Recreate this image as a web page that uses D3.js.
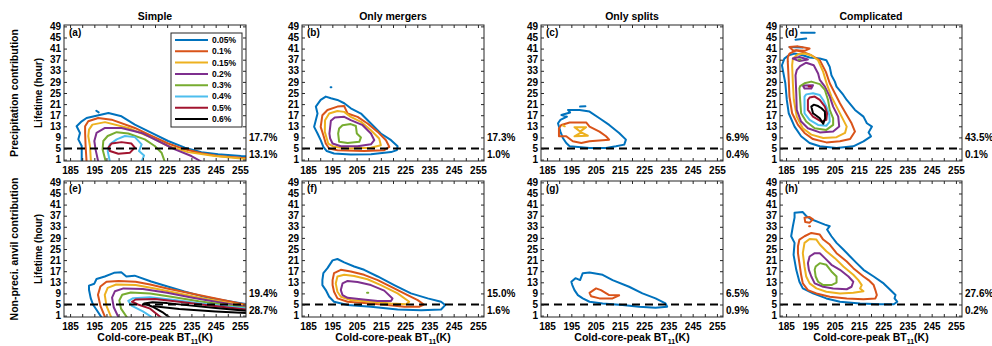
<!DOCTYPE html>
<html>
<head>
<meta charset="utf-8">
<script src="https://cdn.jsdelivr.net/npm/d3@7"></script>
<style>
body { margin: 0; background: #fff; }
text { font-family: "Liberation Sans", Arial, sans-serif; font-weight: bold; fill: #000; }
</style>
</head>
<body>
<svg id="chart" width="992" height="346"></svg>
<script>
// Contour levels and their colours (MATLAB default order)
var levels = ["0.05%", "0.1%", "0.15%", "0.2%", "0.3%", "0.4%", "0.5%", "0.6%"];
var levelColors = ["#0072BD", "#D95319", "#EDB120", "#7E2F8E", "#77AC30", "#4DBEEE", "#A2142F", "#000000"];

var panelTitles = ["Simple", "Only mergers", "Only splits", "Complicated"];
var panelLetters = ["(a)", "(b)", "(c)", "(d)", "(e)", "(f)", "(g)", "(h)"];
var rowLabels = ["Precipitation contribution", "Non-preci. anvil contribution"];
var pctAbove = ["17.7%", "17.3%", "6.9%", "43.5%", "19.4%", "15.0%", "6.5%", "27.6%"];
var pctBelow = ["13.1%", "1.0%", "0.4%", "0.1%", "28.7%", "1.6%", "0.9%", "0.2%"];

var xTicks = d3.range(185, 256, 5);     // labelled every 10 K
var yTicks = d3.range(1, 50, 4);
var lifetimeCut = 5;                    // dashed line (hour)

// contour lines: [level index, closed?, [[BT (K), lifetime (hour)], ...]]
var contA = [
  [0, 0, [[189.8,0.3],[189.8,5.9],[188.4,8.3],[189.1,10.6],[187.7,13],[189.8,14.8],[191.8,16],[200.8,17.8],[206.2,16.6],[211.7,13.6],[218.6,10.6],[225.4,7.7],[232.3,5.3],[239.1,3.7],[246,2.9],[255.5,2.3],[258,2.2]]],
  [0, 0, [[195.8,18.6],[196.8,18.0]]],
  [1, 0, [[191.8,0.3],[191.4,5.9],[191.2,10.6],[191.2,13],[192.5,14.8],[196.6,16],[202.1,15.4],[211.7,12.4],[218.6,9.5],[225.4,6.8],[232.3,4.7],[239.1,3.3],[246,2.3],[255.5,1.7],[258,1.6]]],
  [2, 0, [[193.6,0.3],[193.2,5.9],[192.5,9.5],[192.8,11.8],[194.2,13.6],[199.4,14.5],[209,12.4],[218.6,8.9],[225.4,5.9],[233.6,3.7],[244.6,2.3],[255.5,1.4],[258,1.3]]],
  [3, 0, [[196.6,0.3],[195.5,4.7],[195,7.7],[195.9,10.6],[199.4,12.4],[206.2,12.4],[214.5,10.6],[221.3,7.7],[228.2,4.7],[235,2.3],[239.1,0.3]]],
  [4, 0, [[199.7,0.3],[198.4,4.7],[198.7,7.7],[200.5,9.5],[204.2,10.9],[209,10.4],[215.8,8.3],[219.9,5.9],[222.7,3.5],[224,0.3]]],
  [5, 0, [[201.4,0.3],[200.5,4.1],[201.4,6.5],[204.2,8.3],[207.6,9.5],[211.7,9.1],[214.5,6.5],[213.4,4.1],[215.5,2.5],[214.5,0.3]]],
  [6, 1, [[200.8,5.3],[202.1,6.8],[206.2,7.3],[210.3,6.8],[211.7,5.3],[209.7,3.5],[204.9,3.1],[201.4,4.1]]]
];
var contB = [
  [0, 1, [[187.5,12.8],[188.9,17.6],[188.2,20.1],[190.2,22.5],[192.3,23.7],[194.4,23.1],[197.1,22.5],[199.9,21.3],[202.6,19.5],[206.8,17.6],[210.9,14],[215,10.4],[219.2,8],[221.9,5.8],[221.6,4.4],[219.2,3.7],[210.9,2.9],[202.6,2.8],[195.7,3.2],[192.7,4.1],[191.3,5.6],[190.2,8],[188.9,10.4]]],
  [0, 0, [[194.3,27.1],[194.6,27.1]]],
  [1, 1, [[190.2,12.8],[190.9,17],[193,18.9],[197.1,20.1],[199.9,20.3],[201.3,17.6],[205.4,16.4],[209.5,14],[213.7,11],[217.1,8],[218.5,5.6],[216.4,4.4],[208.1,4.1],[197.1,4.4],[193.7,5],[192.3,6.8],[191.3,9.8]]],
  [2, 1, [[191.9,11],[192,15.2],[193.7,17.6],[197.1,18.5],[199.9,18.2],[202.6,16.4],[206.8,14.6],[210.9,11.6],[214.3,8.6],[215,6.2],[210.9,5.3],[201.3,5],[195.7,5.6],[193.3,6.8]]],
  [3, 1, [[193.8,10.4],[194.4,15],[196,16.2],[199.9,16.4],[202.6,15.2],[207.5,13.4],[210.9,10.4],[212.3,8],[210.9,6.5],[205.4,5.8],[198.5,5.8],[195.1,6.8],[194.1,8.6]]],
  [4, 1, [[197.8,12.2],[199.2,13.4],[202.6,13.8],[204.7,13.1],[205.1,10.4],[206.8,9],[206.1,7.4],[201.3,7],[197.8,7.4],[197.4,10.4]]]
];
var contC = [
  [0, 1, [[189.5,14.1],[190.5,15.3],[193.2,16.5],[190.9,17.1],[194.5,18],[193.6,18.9],[198.4,18.9],[202.5,18.3],[206.6,15.9],[210.6,13.5],[214.7,10.6],[217.5,8.2],[216.8,6.4],[213.4,5.8],[209.3,5.2],[202.5,5.2],[194.3,5.8],[192.9,7],[191.5,8.8],[190.5,11.1]]],
  [0, 0, [[198.6,20.1],[200.8,20.2]]],
  [1, 1, [[189.9,12.3],[190.9,13.5],[194.3,14.4],[201.1,14.4],[202.5,12.9],[206.6,11.1],[209.3,9.4],[210.6,8.2],[202.5,7.6],[199.1,7],[195.6,7.6],[192.9,9.4],[189.9,9.4]]],
  [2, 1, [[196.3,12.7],[201.1,12.7],[198.6,11.1]]],
  [2, 1, [[196.3,9.4],[201.8,9.6],[199.1,10.8]]],
  [2, 0, [[191.5,13.3],[192.3,13.0]]]
];
var contD = [
  [0, 1, [[183.3,35],[184.7,28.5],[185.3,22.5],[186.1,17.7],[188.5,12.9],[191.2,9.4],[194.7,7],[198.9,5.8],[205.8,5.2],[212.7,5.8],[216.9,7.6],[220,9.4],[219,10.8],[220.4,12.9],[218.3,14.1],[216.9,16.5],[213.4,18.9],[210,22.5],[208.6,24.3],[205.8,27.3],[205.1,29.1],[203.7,31.4],[203,34.4],[201.6,36.8],[198.9,37.4],[194.7,37.8],[191.9,38.6],[188.5,39.2],[186.1,38.6],[184.3,37.4]]],
  [0, 0, [[186.4,41.6],[191.9,41.4]]],
  [0, 0, [[188.9,44.2],[193.3,44.6]]],
  [0, 0, [[191.2,46.7],[196.8,46.7]]],
  [1, 1, [[185.7,36.2],[186.1,29.7],[186.4,23.7],[187.5,17.7],[189.9,13.5],[192.6,10.6],[196.1,8.4],[201.6,7.2],[207.2,7.6],[211.4,8.4],[213.4,11.1],[212,14.1],[210,17.1],[207.2,21.3],[205.1,24.9],[203,28.5],[201.4,32.6],[198.9,36.8],[195.4,38.6],[191.9,39.8],[189.2,40.4],[186.4,39.2],[185.7,37.8]]],
  [1, 1, [[186.4,41.6],[189.9,41.8],[194.7,41],[192.6,40.2],[187.8,40.4]]],
  [2, 1, [[187.5,35],[187.8,28.5],[188.2,22.5],[189.4,16.5],[191.9,12.3],[195.4,10],[200.3,8.8],[205.8,9.1],[209.3,10.6],[210,12.9],[207.9,16.5],[205.8,20.1],[203.7,23.7],[201.9,27.9],[200.3,32.6],[198.2,36.8],[195.4,38.6],[192.6,39.2],[189.9,39],[187.8,37.4]]],
  [3, 1, [[188.9,31.4],[189.2,24.9],[189.4,18.9],[191.2,14.7],[194,12.3],[198.9,10.8],[204.4,11.1],[206.9,12.9],[206.5,16.5],[204.4,20.1],[203,23.7],[201,27.3],[198.9,29.7],[198.2,32],[196.4,35],[193.3,35.9],[190.8,34.7],[189.4,33.2]]],
  [3, 1, [[187.8,37.4],[190.5,38],[194,37.1],[190.5,36.5]]],
  [3, 1, [[191.9,27.7],[196.1,27.8],[195.4,26.6],[192.6,26.6]]],
  [4, 1, [[190.5,26.7],[190.8,22.5],[191.2,17.7],[193.3,14.7],[196.8,12.3],[201.6,11.7],[204.4,13.5],[204.4,15.9],[203,18.9],[202.3,22.5],[201,26.1],[198.9,28.2],[195.4,29.1],[192.6,28.5],[190.8,27.5]]],
  [4, 0, [[190.2,37.1],[190.9,37.1]]],
  [5, 1, [[192.6,23.7],[192.6,17.7],[194.7,15.3],[198.2,13.5],[201.6,13.2],[203,14.7],[202.8,17.1],[201.6,20.1],[200.3,22.5],[198.9,24.3],[196.1,24.9],[193.3,24.5]]],
  [6, 1, [[194,22.5],[194,18.9],[196.1,16.5],[199.6,14.7],[201.6,15.3],[201.9,17.7],[201,20.1],[198.9,22.5],[196.8,23.7],[194.7,23.4]]],
  [6, 0, [[194.3,27.3],[195.1,27.3]]],
  [7, 1, [[195.4,20.1],[196.1,17.7],[198.9,15.9],[200.3,13.9],[201.1,15.9],[201,18.3],[199.6,19.5],[198.2,20.3],[196.4,20.8]]]
];
var contE = [
  [0, 0, [[198,0.3],[195.9,3.1],[194.5,4.9],[193.5,7.3],[192.8,10.3],[192.8,11.8],[195,12.5],[195.9,14.2],[199.3,15.1],[203.1,16.4],[206.1,16.6],[208.2,15.1],[211.6,15.4],[218.4,13.3],[225.2,11.5],[232.1,9.7],[238.9,8.1],[245.7,6.9],[255.3,5.5],[258,5.1]]],
  [1, 0, [[199.5,0.3],[197.5,4.5],[196.5,8.5],[197.5,11.5],[200,13.2],[205,13.5],[212,13.2],[218,12.2],[225,10.8],[235,9],[245,7.2],[258,4.8]]],
  [2, 0, [[202,0.3],[200,4.5],[199.3,8.5],[200.5,11],[204,12.2],[212,12],[220,10.8],[230,9],[240,7.2],[258,4.4]]],
  [3, 0, [[205,0.3],[203,4],[202.3,7.5],[203.5,9.8],[207,10.8],[215,10.6],[225,9.2],[235,7.5],[245,6],[258,4.1]]],
  [4, 0, [[208.5,0.3],[206,3.5],[205.3,6.5],[206.5,8.5],[210,9.3],[218,9],[228,7.6],[238,6.2],[248,5],[258,3.8]]],
  [5, 0, [[219,0.3],[215,2.5],[210.5,4.5],[209,6.3],[211,7.3],[218,7.6],[228,6.6],[238,5.5],[248,4.5],[258,3.5]]],
  [6, 0, [[222.5,0.3],[218,3.5],[213,5],[210.5,6],[212,6.8],[220,7],[230,6],[240,4.9],[250,3.9],[258,3.2]]],
  [7, 0, [[226,0.3],[223,2.3],[219,4.2],[215.5,5.4],[219,5.8],[225,5.5],[235,4.6],[245,3.7],[258,2.7]]],
  [7, 0, [[219.5,4.4],[230,3.4],[245,2.5],[258,1.9]]]
];
var contF = [
  [0, 1, [[190.9,13.8],[191.3,16.3],[193,18.1],[195.1,20.9],[197.1,21.4],[199.9,20.2],[204,18.7],[208.1,17.5],[213.7,15.1],[220.5,12],[227.4,9],[234.3,7.2],[239.8,6],[241.5,4.8],[239.8,3.2],[231.6,2.9],[221.9,3.2],[210.9,4.2],[201.3,4.8],[195.7,6],[193.7,7.8],[192.3,10.2],[190.9,12]]],
  [1, 1, [[195.1,13.8],[195.7,16.3],[198.5,17.5],[202.6,16.9],[208.1,15.7],[213.7,13.8],[220.5,10.8],[226,8.4],[230.2,6.6],[232.7,5],[230.9,4.2],[224.7,4.2],[217.8,4.8],[210.9,5.4],[201.3,6],[197.1,7.2],[195.7,9.6],[195.1,12]]],
  [2, 1, [[196.4,12.6],[197.1,15.1],[199.9,15.7],[204,15.3],[209.5,14.1],[215,12],[221.9,9],[226.7,6],[225.4,5.1],[219.2,5.4],[210.9,6],[202.6,6.6],[198.5,7.8],[197.1,9.6]]],
  [3, 1, [[198.5,10.2],[199.2,12.6],[201.3,13.5],[205.4,13.1],[210.9,12],[216.4,10],[219.8,7.2],[219.2,6.3],[213.7,6.3],[206.8,6.9],[201.3,7.4],[199.2,8.4]]],
  [4, 0, [[209.3,9.2],[209.8,9.2]]]
];
var contG = [
  [0, 1, [[195,13.2],[196.7,14.5],[198.6,13.8],[199.7,16.3],[202.5,16.5],[207.9,15.7],[212,13.8],[218.8,11.4],[224.3,9],[229.7,7.2],[233.8,5.4],[234.5,4.2],[229.7,3.8],[222.9,4.2],[216.1,4.8],[207.9,5.4],[202.5,6],[199.7,7.2],[197.7,8.4],[196.3,10.2],[195.4,12]]],
  [1, 1, [[202.5,9.2],[205.2,10.8],[207.2,10.2],[210.6,8.4],[214.7,8.3],[212,7.2],[206.6,7.2],[203.1,8]]]
];
var contH = [
  [0, 1, [[188.5,38.1],[191.9,38.3],[193.3,36.9],[195.4,35.7],[198.9,34.5],[201,33.8],[203,33.2],[201.9,32],[203.7,29.6],[205.8,27.2],[208.6,24.8],[211.4,22.3],[214.1,19.9],[216.9,17.5],[221.1,15.1],[225.2,12.6],[228,10.2],[230.1,8.4],[229.7,7.2],[230.8,6],[229.4,5.1],[223.8,5.1],[215.5,5.4],[207.2,6],[201.6,7.2],[196.1,9],[191.9,10.8],[190.5,13.2],[189.2,17.5],[188.1,22.9],[188.5,27.2],[187.1,29.6],[187.8,33.2],[188.5,36.3]]],
  [1, 1, [[189.9,26],[190.5,28.4],[192.6,29.6],[195.4,30.8],[198.9,30.2],[200.3,28.4],[203,26.6],[205.8,23.5],[210,20.5],[212.7,18.1],[216.9,15.1],[219,13.8],[221.1,12],[221.8,10.2],[222.4,8.4],[221.8,7.2],[216.9,6.9],[210,7.2],[203,7.8],[197.5,9],[194,10.2],[191.9,12.6],[191.2,15.7],[190.5,19.9],[189.9,23.5]]],
  [1, 1, [[192.6,36.3],[194.7,36.5],[196.1,35.7],[194.7,34.5],[192.9,34.7]]],
  [1, 0, [[194.5,33.2],[194.9,33.2]]],
  [2, 1, [[191.9,23.5],[192.6,27.2],[194.7,28.6],[197.5,28.4],[198.9,26.6],[201.6,24.2],[205.1,21.7],[208.6,18.7],[212.7,15.7],[214.8,13.8],[216.2,12],[215.5,10.8],[216.9,9.8],[212.7,9.2],[207.2,9],[201.6,9.6],[197.5,10.8],[194.7,12.6],[193.3,15.1],[192.6,18.7]]],
  [3, 1, [[194,19.9],[194.7,22.3],[196.8,23.5],[198.9,23.5],[201,21.7],[203.7,19.3],[207.2,17.5],[210.7,15.1],[212.7,13.2],[212,11.4],[210,10.5],[204.4,10.8],[200.3,11.4],[196.8,12.6],[195.4,15.1],[194.4,17.5]]],
  [4, 1, [[196.8,17.5],[197.2,18.7],[198.9,19.9],[201.6,19.3],[203.7,16.9],[205.8,15.1],[205.8,12.9],[203.7,12],[200.3,12],[198.2,13.2],[197.2,15.1]]]
];
var panelContours = [contA, contB, contC, contD, contE, contF, contG, contH];

// ---------------- layout ----------------
var svg = d3.select("#chart");
var lefts = [64, 302, 541, 780];
var tops = [25, 181];
var W = 182, H = 136;

var x = d3.scaleLinear().domain([182.5, 257.5]).range([0, W]);
var y = d3.scaleLinear().domain([0.5, 49.5]).range([H, 0]);

var line = d3.line().x(d => x(d[0])).y(d => y(d[1]));
var lineClosed = d3.line().x(d => x(d[0])).y(d => y(d[1])).curve(d3.curveLinearClosed);

panelContours.forEach(function(conts, i) {
  var row = i < 4 ? 0 : 1, col = i % 4;
  var g = svg.append("g").attr("transform", "translate(" + lefts[col] + "," + tops[row] + ")");

  g.append("clipPath").attr("id", "clip" + i)
    .append("rect").attr("width", W).attr("height", H);

  var cg = g.append("g").attr("clip-path", "url(#clip" + i + ")");
  cg.selectAll("path")
    .data(conts)
    .enter().append("path")
    .attr("d", d => d[1] ? lineClosed(d[2]) : line(d[2]))
    .attr("fill", "none")
    .attr("stroke", d => levelColors[d[0]])
    .attr("stroke-width", 2)
    .attr("stroke-linejoin", "round")
    .attr("stroke-linecap", "round");

  // dashed lifetime threshold
  g.append("line")
    .attr("x1", 0).attr("x2", W)
    .attr("y1", y(lifetimeCut)).attr("y2", y(lifetimeCut))
    .attr("stroke", "#000").attr("stroke-width", 2)
    .attr("stroke-dasharray", "8,5");

  // axes with inward ticks
  g.append("g").attr("transform", "translate(0," + H + ")")
    .call(d3.axisBottom(x).tickValues(xTicks).tickSizeInner(-3).tickSizeOuter(0).tickPadding(6)
      .tickFormat(d => d % 10 === 5 ? d : ""));
  g.append("g")
    .call(d3.axisTop(x).tickValues(xTicks).tickSizeInner(-3).tickSizeOuter(0).tickFormat(""));
  g.append("g")
    .call(d3.axisLeft(y).tickValues(yTicks).tickSizeInner(-3).tickSizeOuter(0).tickPadding(3));
  g.append("g").attr("transform", "translate(" + W + ",0)")
    .call(d3.axisRight(y).tickValues(yTicks).tickSizeInner(-3).tickSizeOuter(0).tickFormat(""));
  g.selectAll(".domain").remove();
  g.selectAll(".tick line").attr("stroke", "#262626");
  g.selectAll(".tick text").style("font-size", "10px").style("font-family", "'Liberation Sans', Arial, sans-serif").attr("fill", "#000");

  g.append("rect").attr("width", W).attr("height", H)
    .attr("fill", "none").attr("stroke", "#262626").attr("stroke-width", 1);

  g.append("text").attr("x", 5).attr("y", 11)
    .style("font-size", "10px").text(panelLetters[i]);

  g.append("text").attr("x", W + 3).attr("y", y(9)).attr("dy", "0.35em")
    .style("font-size", "10px").text(pctAbove[i]);
  g.append("text").attr("x", W + 3).attr("y", y(2.7)).attr("dy", "0.35em")
    .style("font-size", "10px").text(pctBelow[i]);

  if (row === 0) {
    g.append("text").attr("x", W / 2).attr("y", -5)
      .attr("text-anchor", "middle").style("font-size", "10.5px").text(panelTitles[col]);
  } else {
    var xl = g.append("text").attr("x", W / 2).attr("y", H + 24)
      .attr("text-anchor", "middle").style("font-size", "10.5px");
    xl.append("tspan").text("Cold-core-peak BT");
    xl.append("tspan").attr("dy", 3).style("font-size", "7px").text("11");
    xl.append("tspan").attr("dy", -3).text("(K)");
  }

  if (col === 0) {
    g.append("text")
      .attr("transform", "translate(-22," + (H / 2) + ") rotate(-90)")
      .attr("text-anchor", "middle").style("font-size", "10px").text("Lifetime (hour)");
    svg.append("text")
      .attr("transform", "translate(18," + (tops[row] + H / 2) + ") rotate(-90)")
      .attr("text-anchor", "middle").style("font-size", "10.5px").text(rowLabels[row]);
  }

  // legend in panel (a)
  if (i === 0) {
    var lg = g.append("g").attr("transform", "translate(107,8)");
    lg.append("rect").attr("width", 71).attr("height", 94)
      .attr("fill", "#fff").attr("stroke", "#262626").attr("stroke-width", 1);
    levels.forEach(function(lv, k) {
      lg.append("line")
        .attr("x1", 4).attr("x2", 37)
        .attr("y1", 7 + k * 11.3).attr("y2", 7 + k * 11.3)
        .attr("stroke", levelColors[k]).attr("stroke-width", 2);
      lg.append("text").attr("x", 41).attr("y", 7 + k * 11.3).attr("dy", "0.35em")
        .style("font-size", "8.5px").text(lv);
    });
  }
});
</script>
</body>
</html>
